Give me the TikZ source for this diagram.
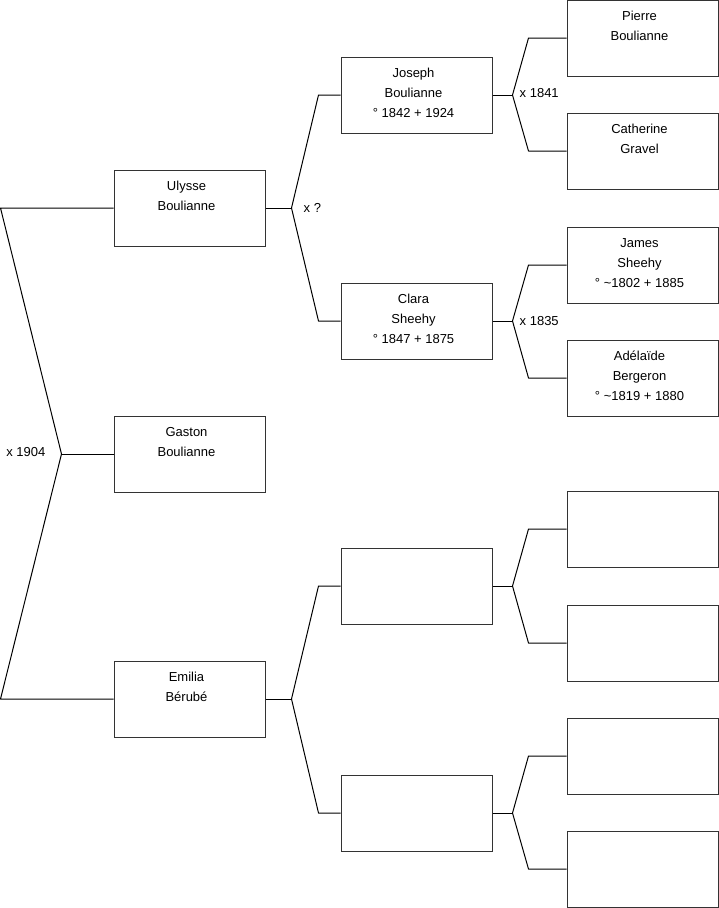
\documentclass[tikz,border=0pt]{standalone}
\usepackage{fontspec}
\setmainfont{Liberation Sans}
\newcommand{\persontext}[1]{\begin{tabular}{@{}c@{\hspace{6pt}}}#1\\[3pt]\end{tabular}}

\begin{document}
\begin{tikzpicture}[x=1pt, y=-1pt,
	every node/.style={font=\fontsize{13}{20}\selectfont},
	person/.style={draw=black!80, line width=1pt, minimum width=151pt, minimum height=76pt, inner sep=0pt},
	link/.style={line width=1pt, line join=round},
	marriage/.style={inner sep=0pt}]
	\useasboundingbox (0,0) rectangle (719,908);
	% children
	\node[person] (ulysse) at (189.5,208) {\persontext{Ulysse\\Boulianne\\\phantom{0}}};
	\node[person] (gaston) at (189.5,454) {\persontext{Gaston\\Boulianne\\\phantom{0}}};
	\node[person] (emilia) at (189.5,699) {\persontext{Emilia\\Bérubé\\\phantom{0}}};
	% parents
	\node[person] (joseph) at (416.5,95) {\persontext{Joseph\\Boulianne\\° 1842 + 1924}};
	\node[person] (clara) at (416.5,321) {\persontext{Clara\\Sheehy\\° 1847 + 1875}};
	\node[person] (emiliaF) at (416.5,586) {};
	\node[person] (emiliaM) at (416.5,813) {};
	% grandparents
	\node[person] (pierre) at (642.5,38) {\persontext{Pierre\\Boulianne\\\phantom{0}}};
	\node[person] (catherine) at (642.5,151) {\persontext{Catherine\\Gravel\\\phantom{0}}};
	\node[person] (james) at (642.5,265) {\persontext{James\\Sheehy\\° \textasciitilde1802 + 1885}};
	\node[person] (adelaide) at (642.5,378) {\persontext{Adélaïde\\Bergeron\\° \textasciitilde1819 + 1880}};
	\node[person] (gp5) at (642.5,529) {};
	\node[person] (gp6) at (642.5,643) {};
	\node[person] (gp7) at (642.5,756) {};
	\node[person] (gp8) at (642.5,869) {};

	% Ulysse x Emilia
	\coordinate (m0) at ([xshift=-52pt]gaston.west);
	\coordinate (m0top) at ([xshift=-113pt]ulysse.west);
	\coordinate (m0bot) at ([xshift=-113pt]emilia.west);
	\draw[link] (ulysse.west) -- (m0top) -- (m0) -- (m0bot) -- (emilia.west);
	\draw[link] (m0) -- (gaston.west);
	\node[marriage, anchor=east] (m0lbl) at ([xshift=-16pt, yshift=2pt]m0) {x 1904};

	% Joseph x Clara
	\coordinate (m1) at ([xshift=26pt]ulysse.east);
	\draw[link] (ulysse.east) -- (m1);
	\draw[link] (joseph.west) -- ([xshift=-22pt]joseph.west) -- (m1) -- ([xshift=-22pt]clara.west) -- (clara.west);
	\node[marriage, anchor=west] (m1lbl) at ([xshift=12pt]m1) {x ?};

	% Emilia's parents
	\coordinate (m2) at ([xshift=26pt]emilia.east);
	\draw[link] (emilia.east) -- (m2);
	\draw[link] (emiliaF.west) -- ([xshift=-22pt]emiliaF.west) -- (m2) -- ([xshift=-22pt]emiliaM.west) -- (emiliaM.west);

	% Pierre x Catherine
	\coordinate (m3) at ([xshift=20pt]joseph.east);
	\draw[link] (joseph.east) -- (m3);
	\draw[link] (pierre.west) -- ([xshift=-38pt]pierre.west) -- (m3) -- ([xshift=-38pt]catherine.west) -- (catherine.west);
	\node[marriage, anchor=west] (m3lbl) at ([xshift=7pt, yshift=2pt]m3) {x 1841};

	% James x Adelaide
	\coordinate (m4) at ([xshift=20pt]clara.east);
	\draw[link] (clara.east) -- (m4);
	\draw[link] (james.west) -- ([xshift=-38pt]james.west) -- (m4) -- ([xshift=-38pt]adelaide.west) -- (adelaide.west);
	\node[marriage, anchor=west] (m4lbl) at ([xshift=7pt]m4) {x 1835};

	% unknown grandparents
	\coordinate (m5) at ([xshift=20pt]emiliaF.east);
	\draw[link] (emiliaF.east) -- (m5);
	\draw[link] (gp5.west) -- ([xshift=-38pt]gp5.west) -- (m5) -- ([xshift=-38pt]gp6.west) -- (gp6.west);
	\coordinate (m6) at ([xshift=20pt]emiliaM.east);
	\draw[link] (emiliaM.east) -- (m6);
	\draw[link] (gp7.west) -- ([xshift=-38pt]gp7.west) -- (m6) -- ([xshift=-38pt]gp8.west) -- (gp8.west);
\end{tikzpicture}
\end{document}
